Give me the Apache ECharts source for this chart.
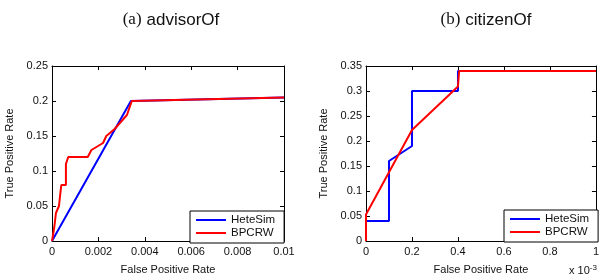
<!DOCTYPE html>
<html>
<head>
<meta charset="utf-8">
<script src="https://cdn.jsdelivr.net/npm/echarts@6/dist/echarts.min.js"></script>
<style>
  html, body { margin: 0; padding: 0; background: #fff; }
  #chart { width: 602px; height: 280px; }
</style>
</head>
<body>
<div id="chart"></div>
<script>
"use strict";

// (a) advisorOf : [false positive rate, true positive rate]
var advisorHeteSim = [[0, 0], [0.0034, 0.2], [0.01, 0.205]];
var advisorBPCRW = [
  [0, 0], [0.0001, 0.02], [0.00017, 0.04], [0.0003, 0.05], [0.0004, 0.08],
  [0.0006, 0.08], [0.0006, 0.11], [0.0007, 0.12], [0.00154, 0.12],
  [0.0017, 0.13], [0.0022, 0.14], [0.00234, 0.15], [0.0027, 0.16],
  [0.00323, 0.18], [0.00344, 0.2], [0.01, 0.205]
];

// (b) citizenOf : false positive rate in units of 1e-3
var citizenHeteSim = [
  [0, 0], [0, 0.04], [0.1, 0.04], [0.1, 0.16], [0.2, 0.19],
  [0.2, 0.3], [0.4, 0.3], [0.4, 0.34], [1, 0.34]
];
var citizenBPCRW = [
  [0, 0], [0, 0.053], [0.2, 0.222], [0.4, 0.309], [0.405, 0.34], [1, 0.34]
];

var seriesNames = ["HeteSim", "BPCRW"];
var titles = ["advisorOf", "citizenOf"];

var chart = echarts.init(document.getElementById("chart"));

var labelFont = { fontFamily: "Liberation Sans, Arial, sans-serif", fontSize: 11, color: "#111" };
var frame = { show: true, onZero: false, lineStyle: { color: "#000", width: 1 } };
var ticks = { show: true, inside: true, length: 4, lineStyle: { color: "#000" } };

function mainX(grid, max, interval) {
  return {
    type: "value", gridIndex: grid, min: 0, max: max, interval: interval,
    name: "False Positive Rate", nameLocation: "middle", nameGap: 23,
    nameTextStyle: labelFont,
    axisLine: frame, axisTick: ticks,
    axisLabel: Object.assign({ margin: 5 }, labelFont),
    splitLine: { show: false }
  };
}
function topX(grid, max, interval) {
  return {
    type: "value", gridIndex: grid, position: "top", min: 0, max: max, interval: interval,
    axisLine: frame, axisTick: ticks,
    axisLabel: { show: false }, splitLine: { show: false }
  };
}
function mainY(grid, max) {
  return {
    type: "value", gridIndex: grid, min: 0, max: max, interval: 0.05,
    name: "True Positive Rate", nameLocation: "middle", nameGap: 37,
    nameTextStyle: labelFont,
    axisLine: frame, axisTick: ticks,
    axisLabel: Object.assign({ margin: 4 }, labelFont),
    splitLine: { show: false }
  };
}
function rightY(grid, max) {
  return {
    type: "value", gridIndex: grid, position: "right", min: 0, max: max, interval: 0.05,
    axisLine: frame, axisTick: ticks,
    axisLabel: { show: false }, splitLine: { show: false }
  };
}
function line(name, color, xi, yi, data) {
  return {
    name: name, type: "line", xAxisIndex: xi, yAxisIndex: yi, data: data,
    symbol: "none", lineStyle: { color: color, width: 2 }, itemStyle: { color: color }
  };
}
function legend(left, top) {
  return {
    data: seriesNames, orient: "vertical", left: left, top: top,
    backgroundColor: "#fff", borderColor: "#000", borderWidth: 1,
    padding: [3, 9, 4, 6], icon: "rect", itemWidth: 30, itemHeight: 2, itemGap: 1,
    selectedMode: false,
    textStyle: { fontFamily: "Liberation Sans, Arial, sans-serif", fontSize: 11.5, color: "#111", lineHeight: 12 }
  };
}
function title(letter, text, centerX) {
  return {
    text: "{s|(" + letter + ")} {t|" + text + "}",
    left: centerX, top: 6, textAlign: "center",
    textStyle: {
      fontWeight: "normal",
      rich: {
        s: { fontFamily: "Liberation Serif, Times New Roman, serif", fontSize: 17, fontWeight: "normal", color: "#111" },
        t: { fontFamily: "Liberation Sans, Arial, sans-serif", fontSize: 17, fontWeight: "normal", color: "#111" }
      }
    }
  };
}

chart.setOption({
  animation: false,
  title: [title("a", titles[0], 166), title("b", titles[1], 481)],
  grid: [
    { left: 52, top: 66, width: 232, height: 181 },
    { left: 366, top: 66, width: 232, height: 181 }
  ],
  xAxis: [mainX(0, 0.01, 0.002), topX(0, 0.01, 0.002), mainX(1, 1, 0.2), topX(1, 1, 0.2)],
  yAxis: [mainY(0, 0.25), rightY(0, 0.25), mainY(1, 0.35), rightY(1, 0.35)],
  legend: [legend(190, 211), legend(504, 210)],
  graphic: [{
    type: "text", left: 569, top: 264,
    style: {
      text: "x 10{sup|-3}",
      font: "11px Liberation Sans, Arial, sans-serif", fill: "#111",
      rich: { sup: { fontSize: 8, verticalAlign: "top", padding: [0, 0, 6, 0], fill: "#111" } }
    }
  }],
  series: [
    line(seriesNames[0], "#0000ff", 0, 0, advisorHeteSim),
    line(seriesNames[1], "#ff0000", 0, 0, advisorBPCRW),
    line(seriesNames[0], "#0000ff", 2, 2, citizenHeteSim),
    line(seriesNames[1], "#ff0000", 2, 2, citizenBPCRW)
  ]
});
</script>
</body>
</html>
